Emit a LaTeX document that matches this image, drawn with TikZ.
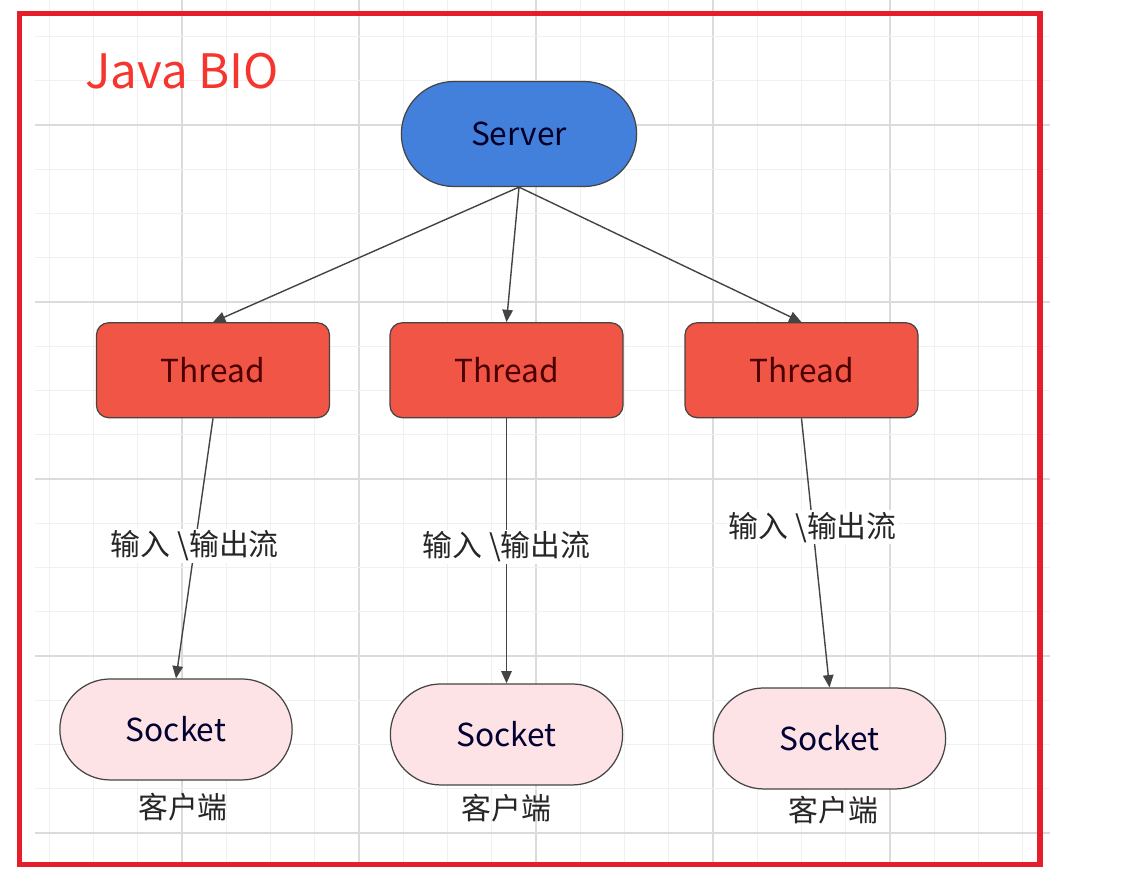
\documentclass[tikz,border=0pt]{standalone}
\usepackage{fontspec}
\setmainfont{Noto Sans CJK SC}
\usepackage{xcolor}
\usepackage{tikz}
\usetikzlibrary{shapes.misc,arrows.meta,positioning}
\definecolor{serverblue}{HTML}{4280DC}
\definecolor{threadred}{HTML}{F05545}
\definecolor{sockpink}{HTML}{FDE3E5}
\definecolor{edgegrey}{HTML}{444444}
\definecolor{framered}{HTML}{E61E2A}
\definecolor{titlered}{HTML}{F5352E}
\tikzset{
  server/.style={rounded rectangle, draw=edgegrey, fill=serverblue,
                 minimum width=4.94cm, minimum height=2.1cm, line width=0.7pt,
                 font=\fontsize{18}{20}\selectfont, text=black!75!blue!60!black},
  thread/.style={rectangle, rounded corners=7pt, draw=edgegrey, fill=threadred,
                 minimum width=4.66cm, minimum height=1.9cm, line width=0.7pt,
                 font=\fontsize{18}{20}\selectfont, text=black!70!red},
  sock/.style={rounded rectangle, draw=edgegrey, fill=sockpink,
               minimum width=4.88cm, minimum height=2.02cm, line width=0.7pt,
               font=\fontsize{18}{20}\selectfont, text=black!80!blue},
  flow/.style={-{Triangle[length=7pt, width=6pt]}, line width=0.8pt, edgegrey},
  iolabel/.style={fill=white, inner sep=1pt, font=\fontsize{17}{19}\selectfont,
                  text=black!85},
  client/.style={font=\fontsize{17}{19}\selectfont, text=black!85},
  gridminor/.style={draw=black!6, line width=0.5pt},
  gridmajor/.style={draw=black!14, line width=0.6pt},
  frame/.style={draw=framered, line width=3pt},
}

\begin{document}
\begin{tikzpicture}[node distance=2.7cm and 1cm]

\useasboundingbox (0,0) rectangle (22.94,-17.86);

% background grid
\begin{scope}
\clip (0.7,0) rectangle (21,-17.3);
\foreach \k in {1,...,23} {
  \pgfmathtruncatemacro{\m}{mod(\k,4)}
  \ifnum\m=0
    \draw[gridmajor] ({0.1+\k*0.885},0) -- ({0.1+\k*0.885},-17.3);
  \else
    \draw[gridminor] ({0.1+\k*0.885},0) -- ({0.1+\k*0.885},-17.3);
  \fi
}
\foreach \j in {1,...,19} {
  \pgfmathtruncatemacro{\m}{mod(\j,4)}
  \ifnum\m=3
    \draw[gridmajor] (0.7,{0.155-\j*0.885}) -- (21,{0.155-\j*0.885});
  \else
    \draw[gridminor] (0.7,{0.155-\j*0.885}) -- (21,{0.155-\j*0.885});
  \fi
}
\end{scope}

% outer frame
\draw[frame] (0.39,-0.27) rectangle (20.8,-17.29);

\node[anchor=base west, inner sep=0pt, text=titlered,
      font=\fontsize{27}{29}\selectfont] (title) at (1.7,-1.76) {Java BIO};

\node[server] (server) at (10.38,-2.68) {Server};

\node[thread, below=2.7cm of server, xshift=-6.12cm] (t1) {Thread};
\node[thread, below=2.7cm of server, xshift=-0.25cm] (t2) {Thread};
\node[thread, below=2.7cm of server, xshift=5.65cm] (t3) {Thread};

\node[sock, below=5.2cm of t1, xshift=-0.74cm] (s1) {Socket};
\node[sock, below=5.3cm of t2] (s2) {Socket};
\node[sock, below=5.38cm of t3, xshift=0.56cm] (s3) {Socket};

\node[client, below=0.12cm of s1, xshift=0.14cm] (c1) {客户端};
\node[client, below=0.04cm of s2] (c2) {客户端};
\node[client, below=0cm of s3, xshift=0.08cm] (c3) {客户端};

% server to threads
\draw[flow] (server.south) -- (t1.north);
\draw[flow] (server.south) -- (t2.north);
\draw[flow] (server.south) -- (t3.north);

% threads to sockets
\draw[flow] (t1.south) -- node[iolabel, pos=0.49] {输入 \textbackslash{}输出流} (s1.north);
\draw[flow] (t2.south) -- node[iolabel, pos=0.485] {输入 \textbackslash{}输出流} (s2.north);
\draw[flow] (t3.south) -- node[iolabel, pos=0.405] {输入 \textbackslash{}输出流} (s3.north);

\end{tikzpicture}
\end{document}
